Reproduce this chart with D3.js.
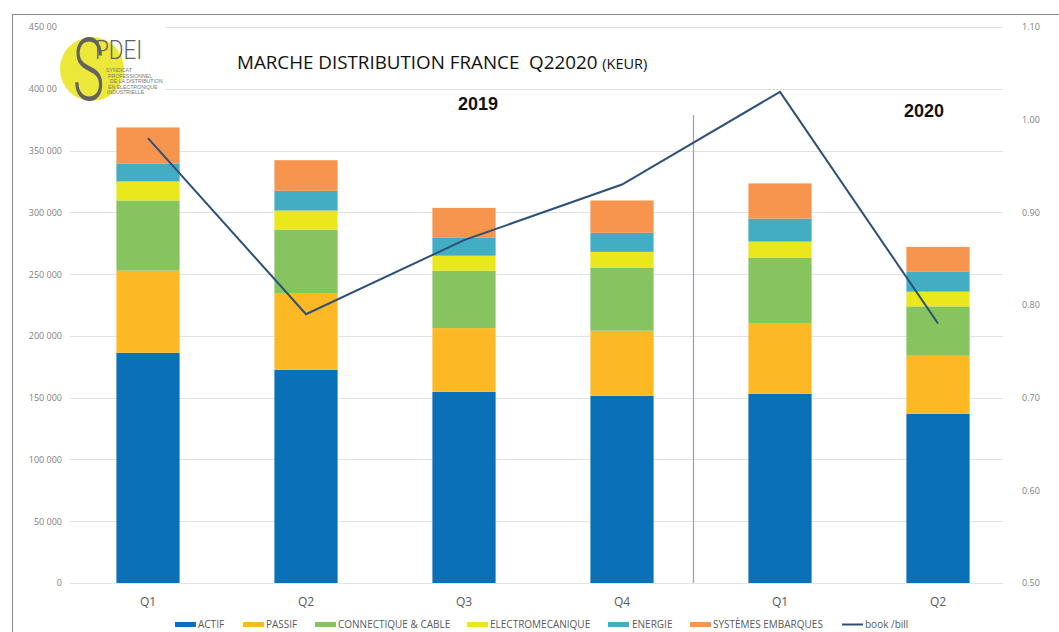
<!DOCTYPE html>
<html><head><meta charset="utf-8">
<script src="https://cdn.jsdelivr.net/npm/d3@7"></script>
<style>body{margin:0;background:#fff;}svg{display:block;font-family:"Open Sans","Liberation Sans",sans-serif;}</style>
</head><body><svg id="c" width="1059" height="632"></svg>
<script>
const categories = ["Q1","Q2","Q3","Q4","Q1","Q2"];
const seriesNames = ["ACTIF","PASSIF","CONNECTIQUE & CABLE","ELECTROMECANIQUE","ENERGIE","SYSTÈMES EMBARQUES"];
const actif       = [186400,172600,154700,151500,153100,136900];
const passif      = [ 66400, 61600, 51600, 52700, 57300, 47000];
const connectique = [ 56800, 51900, 46500, 50800, 52700, 40000];
const electro     = [ 15400, 15400, 12100, 13000, 13200, 11900];
const energie     = [ 14600, 15900, 14400, 15400, 18600, 16000];
const systemes    = [ 29100, 24800, 24300, 26200, 28500, 20200];
const bookBill    = [0.98, 0.79, 0.87, 0.93, 1.03, 0.78];
const leftTicks   = [0,50000,100000,150000,200000,250000,300000,350000,400000,450000];
const rightTicks  = [0.5,0.6,0.7,0.8,0.9,1.0,1.1];
const colors = ["#0a70b8","#fdb924","#86c45f","#eae71c","#43adc4","#f7954e"];
const lineColor = "#2e5078";

const svg = d3.select("#c");
const seriesVals = [actif,passif,connectique,electro,energie,systemes];
const rows = categories.map((c,i)=>{const o={i};seriesNames.forEach((s,k)=>o[s]=seriesVals[k][i]);return o;});
const stack = d3.stack().keys(seriesNames)(rows);

const x = d3.scaleBand().domain(d3.range(categories.length)).range([69,1017]).paddingInner(0.6).paddingOuter(0.3);
const y = d3.scaleLinear().domain([0,450000]).range([583,27]);
const y2 = d3.scaleLinear().domain([0.5,1.1]).range([583,27]);

// border
svg.append("rect").attr("x",12.5).attr("y",14.5).attr("width",1060).attr("height",630).attr("fill","none").attr("stroke","#8a8a8a").attr("stroke-width",1);

// gridlines
svg.append("g").selectAll("line").data(leftTicks).join("line")
  .attr("x1",70).attr("x2",1003).attr("y1",d=>Math.round(y(d))+0.5).attr("y2",d=>Math.round(y(d))+0.5)
  .attr("stroke","#e3e3e3").attr("stroke-width",1);

// left axis
const fmt = d=> d===0?"0":d3.format(",")(d).replace(/,/g," ");
const la = svg.append("g").attr("transform","translate(68,0)").call(d3.axisLeft(y).tickValues(leftTicks).tickFormat(fmt).tickSize(0).tickPadding(6));
la.select(".domain").remove();
la.selectAll("text").attr("fill","#7f7f7f").style("font-size","9px").style("font-family","'Open Sans',sans-serif");

// right axis
const ra = svg.append("g").attr("transform","translate(1016,0)").call(d3.axisRight(y2).tickValues(rightTicks).tickFormat(d3.format(".2f")).tickSize(0).tickPadding(6));
ra.select(".domain").remove();
ra.selectAll("text").attr("fill","#7f7f7f").style("font-size","9px").style("font-family","'Open Sans',sans-serif");

// bars
svg.append("g").selectAll("g").data(stack).join("g").attr("fill",(d,k)=>colors[k])
  .selectAll("rect").data(d=>d).join("rect")
  .attr("x",d=>x(d.data.i)).attr("width",x.bandwidth())
  .attr("y",d=>y(d[1])).attr("height",d=>y(d[0])-y(d[1]));

// separator
svg.append("line").attr("x1",693.5).attr("x2",693.5).attr("y1",115).attr("y2",583).attr("stroke","#7fa6d6").attr("stroke-width",1.2);

// book/bill line
const line = d3.line().x((d,i)=>x(i)+x.bandwidth()/2).y(d=>y2(d));
svg.append("path").datum(bookBill).attr("d",line).attr("fill","none").attr("stroke",lineColor).attr("stroke-width",2);

// x axis labels
const xa = svg.append("g").attr("transform","translate(0,583)").call(d3.axisBottom(x).tickFormat(i=>categories[i]).tickSize(0).tickPadding(14));
xa.select(".domain").remove();
xa.selectAll("text").attr("fill","#595959").style("font-size","12px").style("font-family","'Open Sans',sans-serif");

// year labels
svg.append("text").attr("x",478).attr("y",110).attr("text-anchor","middle").attr("font-weight","bold").attr("font-size","18px").attr("fill","#111").style("font-family","'Liberation Sans',Arial,sans-serif").text("2019");
svg.append("text").attr("x",924).attr("y",117).attr("text-anchor","middle").attr("font-weight","bold").attr("font-size","18px").attr("fill","#111").style("font-family","'Liberation Sans',Arial,sans-serif").text("2020");

// title
const t = svg.append("text").attr("x",237).attr("y",69).attr("fill","#111").style("font-size","18.8px").style("font-family","'Open Sans',sans-serif");
t.append("tspan").text("MARCHE DISTRIBUTION FRANCE\u00a0\u00a0Q22020 ");
t.append("tspan").style("font-size","14.5px").text("(KEUR)");

// logo
const lg = svg.append("g");
lg.append("rect").attr("x",57).attr("y",20).attr("width",108).attr("height",82).attr("fill","#fff");
lg.append("circle").attr("cx",92).attr("cy",69).attr("r",32).attr("fill","#ece83a");
lg.append("text").attr("transform","translate(73,100) scale(0.6,1)").attr("fill","#626262")
  .style("font-size","88px").style("font-family","Roboto,'Open Sans',sans-serif").style("font-weight","300").text("S");
lg.append("text").attr("transform","translate(95,59) scale(0.9,1)").attr("fill","#626262")
  .style("font-size","25px").style("font-family","Roboto,'Open Sans',sans-serif").style("font-weight","300").text("PDEI");
const small = ["SYNDICAT","PROFESSIONNEL","DE LA DISTRIBUTION","EN ELECTRONIQUE","INDUSTRIELLE"];
lg.selectAll("text.sm").data(small).join("text").attr("class","sm").attr("x",(d,i)=>[106,108,110,108,107][i]).attr("y",(d,i)=>72+i*5.6)
  .attr("fill","#777").style("font-size","5.2px").style("font-family","'Liberation Sans Narrow','Liberation Sans',sans-serif").text(d=>d);

// legend
const legendItems = [
  {name:"ACTIF",sx:175,tx:198},
  {name:"PASSIF",sx:243,tx:266},
  {name:"CONNECTIQUE & CABLE",sx:315,tx:338},
  {name:"ELECTROMECANIQUE",sx:467,tx:490},
  {name:"ENERGIE",sx:608,tx:632},
  {name:"SYSTÈMES EMBARQUES",sx:690,tx:713},
  {name:"book /bill",sx:842,tx:865,line:true}
];
const lgd = svg.append("g");
legendItems.forEach((it,k)=>{
  if(it.line){
    lgd.append("line").attr("x1",it.sx).attr("x2",it.sx+21).attr("y1",624.5).attr("y2",624.5).attr("stroke",lineColor).attr("stroke-width",2);
  } else {
    lgd.append("rect").attr("x",it.sx).attr("y",622).attr("width",21).attr("height",5).attr("fill",colors[k]);
  }
  lgd.append("text").attr("x",it.tx).attr("y",628).attr("fill","#595959").style("font-size","10px").style("font-family","'Liberation Sans Narrow','Open Sans',sans-serif").text(it.name);
});
</script></body></html>
